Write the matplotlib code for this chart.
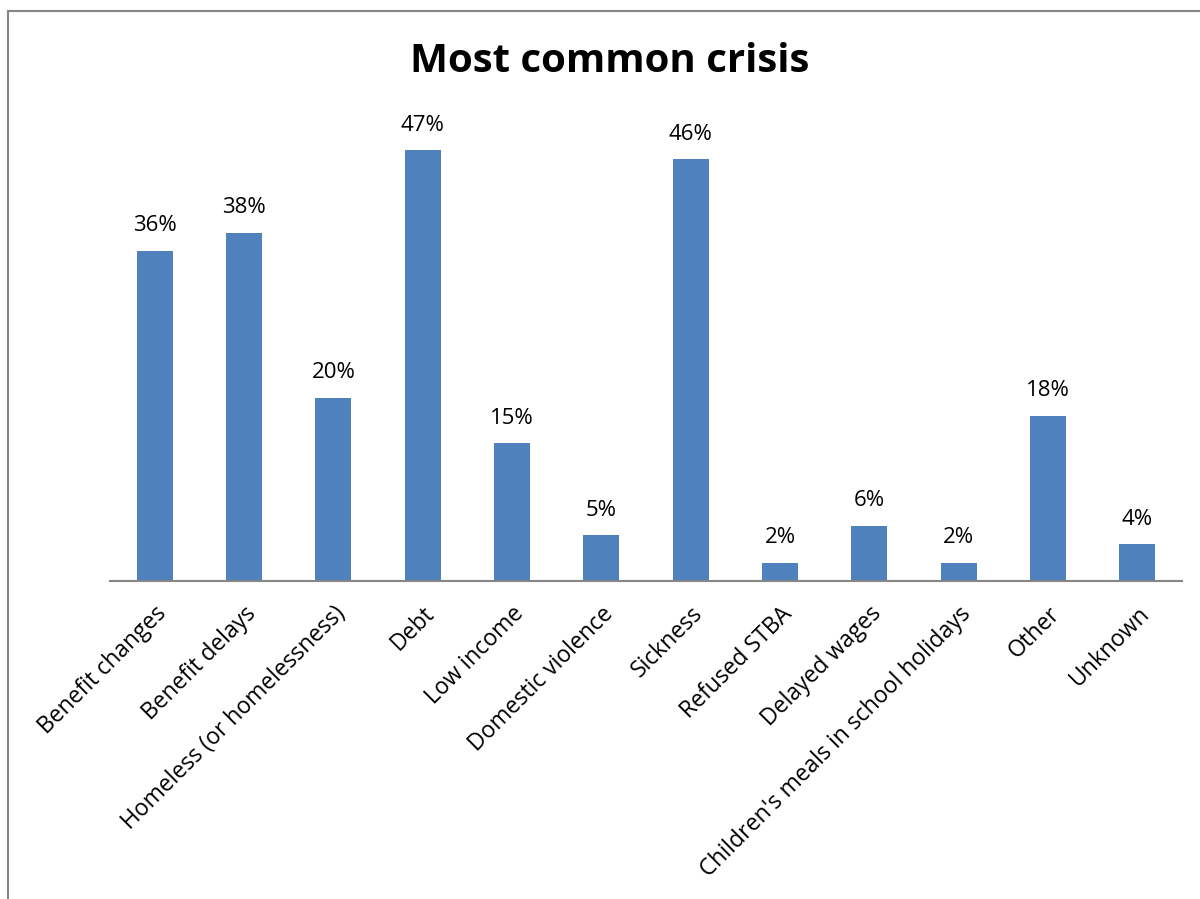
import matplotlib
matplotlib.use("Agg")
import matplotlib.pyplot as plt
from matplotlib.patches import Rectangle

categories = [
    "Benefit changes", "Benefit delays", "Homeless (or homelessness)", "Debt",
    "Low income", "Domestic violence", "Sickness", "Refused STBA",
    "Delayed wages", "Children's meals in school holidays", "Other", "Unknown",
]
values = [36, 38, 20, 47, 15, 5, 46, 2, 6, 2, 18, 4]
title = "Most common crisis"

plt.rcParams['font.family'] = ['Open Sans', 'DejaVu Sans']

W, H = 1200, 899
fig = plt.figure(figsize=(W / 100, H / 100), dpi=100)

# outer chart frame (runs off the right and bottom edges)
fig.patches.append(Rectangle((8 / W, -0.1), 1.2, 1 - 11 / H + 0.1,
                             transform=fig.transFigure, fill=False,
                             edgecolor="#868686", linewidth=1.5))

ax = fig.add_axes([110 / W, 1 - 581 / H, 1072 / W, 458.5 / H])
x = range(len(categories))
bars = ax.bar(x, values, width=0.4, color="#4F81BD", zorder=2)
ax.set_xlim(-0.5, len(categories) - 0.5)
ax.set_ylim(0, 50)

for b, v in zip(bars, values):
    ax.annotate(f"{v}%", (b.get_x() + b.get_width() / 2, v),
                xytext=(0, 18), textcoords="offset points",
                ha="center", va="center", fontsize=16)

ax.set_xticks(list(x))
ax.set_xticklabels(categories, rotation=45, ha="right",
                   rotation_mode="anchor", fontsize=16.5)
ax.tick_params(axis="x", length=0, pad=15)
ax.set_yticks([])
for s in ("top", "right", "left"):
    ax.spines[s].set_visible(False)
ax.spines["bottom"].set_color("#868686")
ax.spines["bottom"].set_linewidth(1.5)

fig.text(610 / W, 1 - 62 / H, title, ha="center", va="center",
         fontsize=29, fontweight="bold")

fig.savefig("out.png", dpi=100, facecolor="white")
